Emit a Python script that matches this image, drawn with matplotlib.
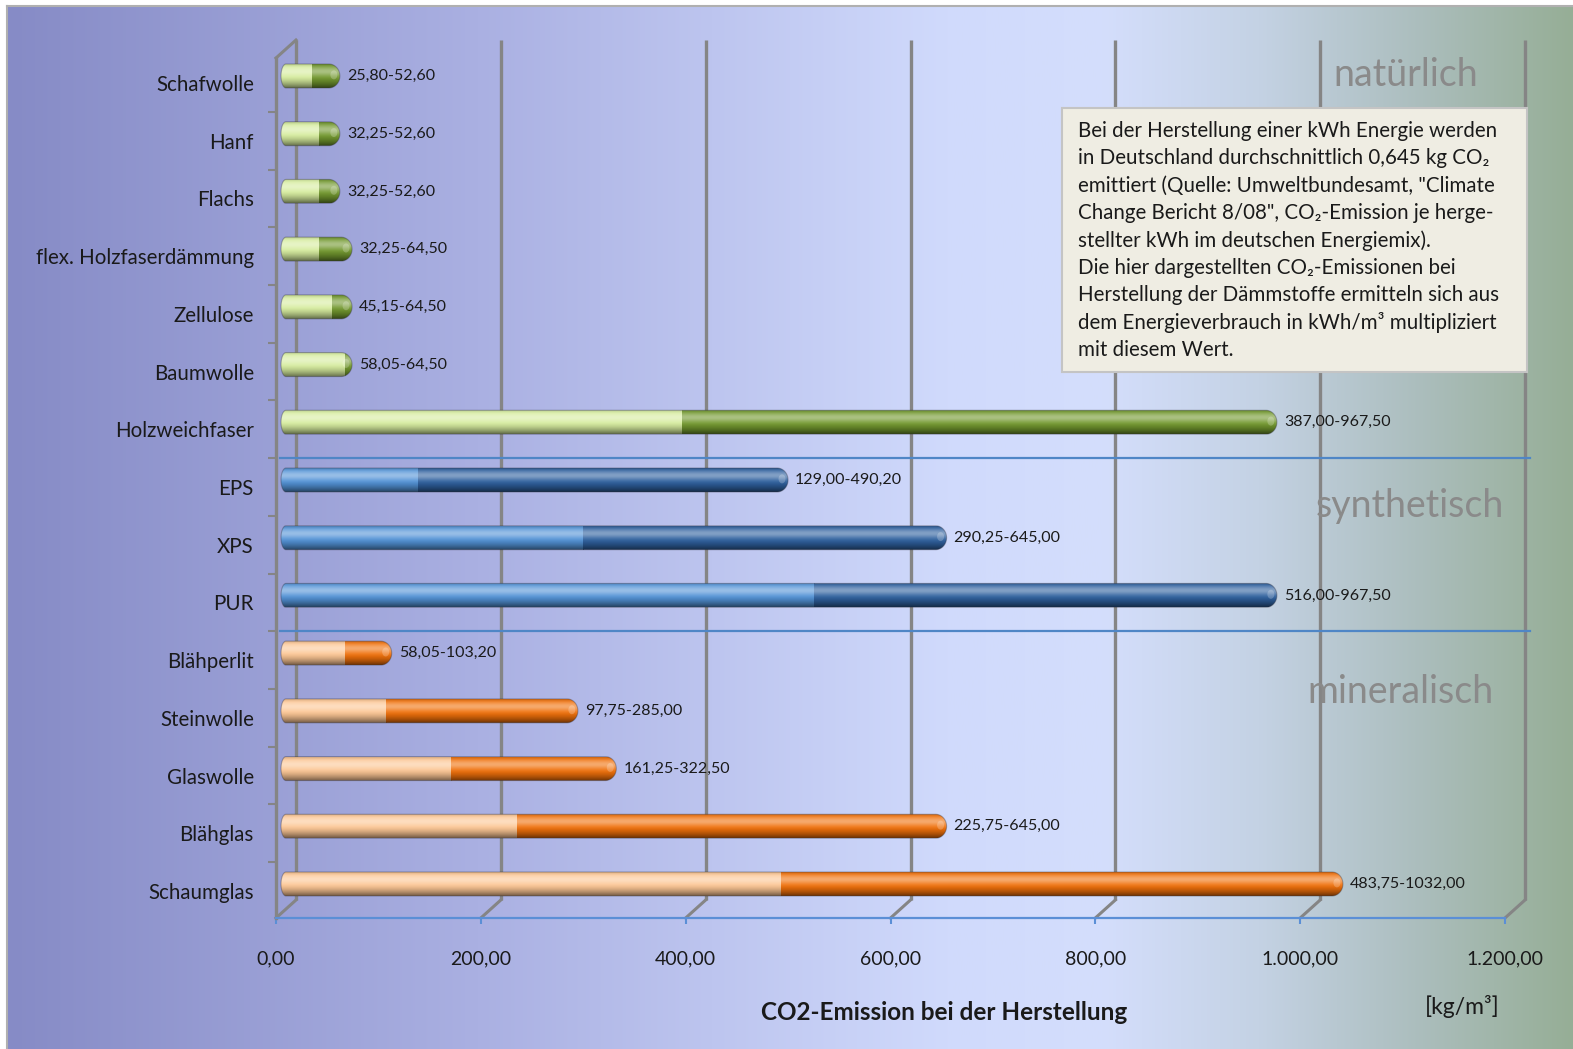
import numpy as np
import matplotlib
matplotlib.use("Agg")
import matplotlib.pyplot as plt
from matplotlib.path import Path
from matplotlib.patches import PathPatch, Rectangle, Ellipse
from matplotlib.ticker import FuncFormatter

plt.rcParams['font.family'] = ['Lato', 'DejaVu Sans']

# Dämmstoffe, CO2-Emission bei der Herstellung [kg/m³]
materials = ["Schafwolle", "Hanf", "Flachs", "flex. Holzfaserdämmung", "Zellulose",
             "Baumwolle", "Holzweichfaser", "EPS", "XPS", "PUR", "Blähperlit",
             "Steinwolle", "Glaswolle", "Blähglas", "Schaumglas"]
low = [25.80, 32.25, 32.25, 32.25, 45.15, 58.05, 387.00, 129.00, 290.25, 516.00,
       58.05, 97.75, 161.25, 225.75, 483.75]
high = [52.60, 52.60, 52.60, 64.50, 64.50, 64.50, 967.50, 490.20, 645.00, 967.50,
        103.20, 285.00, 322.50, 645.00, 1032.00]
group = ["nat"] * 7 + ["syn"] * 3 + ["min"] * 5
group_names = {"nat": "natürlich", "syn": "synthetisch", "min": "mineralisch"}
x_ticks = [0, 200, 400, 600, 800, 1000, 1200]

note_lines = [
    "Bei der Herstellung einer kWh Energie werden",
    "in Deutschland durchschnittlich 0,645 kg CO\u2082",
    "emittiert (Quelle: Umweltbundesamt, \"Climate",
    "Change Bericht 8/08\", CO\u2082-Emission je herge-",
    "stellter kWh im deutschen Energiemix).",
    "Die hier dargestellten CO\u2082-Emissionen bei",
    "Herstellung der Dämmstoffe ermitteln sich aus",
    "dem Energieverbrauch in kWh/m\u00b3 multipliziert",
    "mit diesem Wert.",
]

# light / dark colour of the cylinder segments per group
seg_colors = {
    "nat": ((214, 236, 158), (114, 152, 46)),
    "syn": ((82, 146, 214), (46, 96, 158)),
    "min": ((252, 198, 148), (240, 112, 10)),
}

W, H = 1573, 1049
fig = plt.figure(figsize=(W / 100, H / 100), dpi=100)
fig.patch.set_facecolor("white")


def fx(px):
    return px / W


def fy(py):
    return 1 - py / H


# background gradient
bg = fig.add_axes([fx(8), 0, 1 - fx(8), 1 - 6 / H], zorder=-10)
stops_x = [0.0, 0.30, 0.60, 0.70, 0.80, 0.90, 1.0]
stops_c = np.array([(134, 139, 198), (170, 176, 226), (208, 218, 252), (212, 222, 252),
                    (196, 210, 228), (172, 190, 190), (150, 174, 150)]) / 255
gx = np.linspace(0, 1, 600)
grad = np.stack([np.interp(gx, stops_x, stops_c[:, k]) for k in range(3)], axis=-1)
bg.imshow(grad[None, :, :], aspect="auto", extent=(0, 1, 0, 1), interpolation="bilinear")
bg.set_axis_off()
fig.add_artist(plt.Line2D([fx(7), fx(7)], [0, fy(6)], color="#b0b0b0", lw=1.5))
fig.add_artist(plt.Line2D([fx(7), 1], [fy(6), fy(6)], color="#b0b0b0", lw=1.5))

# main axes: front plane of the 3D chart
ax = fig.add_axes([fx(276), fy(918), (1505 - 276) / W, (918 - 58) / H])
ax.set_facecolor("none")
YTOP, YBOT = -0.433, 14.468
XS = 1229 / 1200          # px per data unit
YS = 860 / (YBOT - YTOP)  # px per category
DXB, DYB = 20 / XS, -18 / YS   # back wall offset
DXM, DYM = 10 / XS, -7 / YS    # bar depth offset

grid_c = "#858585"
for v in x_ticks:
    ax.plot([v + DXB, v + DXB], [YTOP + DYB, YBOT + DYB], color=grid_c, lw=2.4,
            zorder=1, clip_on=False, solid_capstyle="butt")
    ax.plot([v, v + DXB], [YBOT, YBOT + DYB], color=grid_c, lw=2.2, zorder=1, clip_on=False)
ax.plot([0, DXB], [YTOP, YTOP + DYB], color=grid_c, lw=2.2, zorder=1, clip_on=False)

# category separators
for b in (6.5, 9.5):
    ax.plot([4 / XS, 1254 / XS], [b, b], color="#4f86c6", lw=1.6, zorder=2, clip_on=False)


def shade(rgb, n=64):
    t = np.linspace(0, 1, n)
    base = np.array(rgb) / 255
    light = 0.40 * np.exp(-((t - 0.30) / 0.2) ** 2)
    dark = np.where(t > 0.5, 0.55 * ((t - 0.5) / 0.5) ** 1.6, 0.0)
    dark += np.where(t < 0.12, 0.12 * (1 - t / 0.12), 0.0)
    col = base[None, :] * (1 - dark[:, None]) + (1 - base[None, :]) * light[:, None] * (1 - dark[:, None])
    return np.clip(col, 0, 1)[:, None, :]


def capsule(x0, x1, yc, h):
    rl, rr = 5 / XS, 11 / XS
    t = np.linspace(-np.pi / 2, np.pi / 2, 40)
    right = np.column_stack([x1 - rr + rr * np.cos(t), yc + h / 2 * np.sin(t)])
    left = np.column_stack([x0 - rl * np.cos(t), yc - h / 2 * np.sin(t)])
    verts = np.vstack([right, left, right[:1]])
    return Path(verts, closed=True)


bh = 24 / YS
for i, (lo, hi, g) in enumerate(zip(low, high, group)):
    yc = i + DYM
    x0, xl, x1 = DXM, lo + DXM, hi + DXM
    clip = PathPatch(capsule(x0, x1, yc, bh), transform=ax.transData, facecolor="none",
                     edgecolor=(0.2, 0.2, 0.25, 0.35), lw=0.8, zorder=4)
    ax.add_patch(clip)
    c_light, c_dark = seg_colors[g]
    for xa, xb, c in ((x0 - 6 / XS, xl, c_light), (xl, x1 + 1 / XS, c_dark)):
        im = ax.imshow(shade(c), extent=(xa, xb, yc + bh / 2, yc - bh / 2), origin="upper",
                       aspect="auto", interpolation="bilinear", zorder=3)
        im.set_clip_path(clip)
    # glossy spot on the rounded end
    spot = Ellipse((x1 - 6 / XS, yc - 0.02), 7 / XS, 9 / YS, facecolor="white",
                   alpha=0.22, lw=0, zorder=4)
    ax.add_patch(spot)
    label = f"{lo:.2f}-{hi:.2f}".replace(".", ",")
    ax.text(x1 + 7 / XS, yc, label, fontsize=11.5, va="center", ha="left", color="#1a1a1a",
            zorder=5)

# group names
for g, px, py in (("nat", 1406, 75), ("syn", 1410, 506), ("min", 1401, 692)):
    fig.text(fx(px), fy(py), group_names[g], fontsize=27, color="#8a8a8a", ha="center",
             va="center", zorder=2)

ax.set_xlim(0, 1200)
ax.set_ylim(YBOT, YTOP)
ax.set_xticks(x_ticks)
ax.xaxis.set_major_formatter(FuncFormatter(
    lambda v, p: f"{v:,.2f}".replace(",", "X").replace(".", ",").replace("X", ".")))
ax.tick_params(axis="x", colors="#5b8fd6", length=4, width=1.5, pad=19,
               labelcolor="#1a1a1a", labelsize=14)
ax.set_yticks(range(len(materials)))
ax.set_yticklabels(materials)
ax.tick_params(axis="y", length=0, pad=16, labelsize=14.8, labelcolor="#1a1a1a")
ax.set_yticks(np.arange(0.5, 14), minor=True)
ax.tick_params(axis="y", which="minor", length=6, width=1.5, color=grid_c)
for s in ("top", "right"):
    ax.spines[s].set_visible(False)
ax.spines["left"].set_color(grid_c)
ax.spines["left"].set_linewidth(2.4)
ax.spines["bottom"].set_color("#5b8fd6")
ax.spines["bottom"].set_linewidth(1.6)

fig.text(fx(944), fy(1012), "CO2-Emission bei der Herstellung", fontsize=17.5,
         fontweight="bold", ha="center", va="center", color="#1a1a1a")
fig.text(fx(1462), fy(1006), "[kg/m\u00b3]", fontsize=16.5, ha="center", va="center",
         color="#1a1a1a")

# explanatory note
fig.add_artist(Rectangle((fx(1062), fy(372)), fx(1527 - 1062), (372 - 108) / H,
                         transform=fig.transFigure, facecolor="#efede3",
                         edgecolor="#c4c4c4", lw=1.5, zorder=6))
for k, line in enumerate(note_lines):
    fig.text(fx(1078), fy(131 + 27.4 * k), line, fontsize=14.8, ha="left", va="center",
             color="#1a1a1a", zorder=7)

fig.savefig("out.png", dpi=100)
